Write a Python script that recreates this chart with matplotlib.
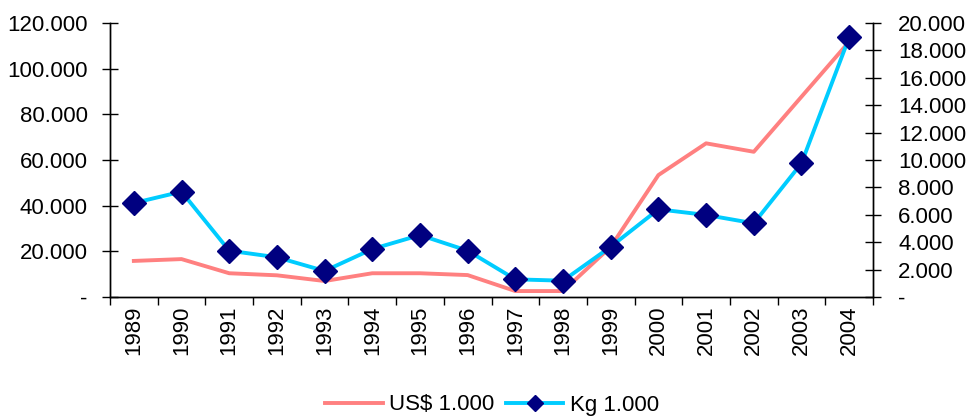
import matplotlib
matplotlib.use("Agg")
import matplotlib.pyplot as plt
from matplotlib.ticker import FuncFormatter, FixedLocator
from matplotlib.lines import Line2D
import numpy as np

plt.rcParams['font.family'] = ['Liberation Sans', 'DejaVu Sans']

years = ["1989", "1990", "1991", "1992", "1993", "1994", "1995", "1996",
         "1997", "1998", "1999", "2000", "2001", "2002", "2003", "2004"]
usd = [15800, 16600, 10400, 9500, 7000, 10400, 10400, 9600,
       2600, 2600, 22000, 53400, 67300, 63600, 87700, 111800]
kg = [6860, 7690, 3380, 2900, 1900, 3500, 4520, 3380,
      1290, 1190, 3670, 6400, 5990, 5380, 9760, 18950]

def fmt(v, pos):
    if abs(v) < 1e-9:
        return "-"
    return f"{int(round(v)):,}".replace(",", ".")

FS = 16
fig = plt.figure(figsize=(9.68, 4.18), dpi=100)
ax = fig.add_axes([110/968, 1-297/418, (873-110)/968, (297-23)/418])
ax2 = ax.twinx()

x = np.arange(len(years))
l1, = ax.plot(x, usd, color='#FF8080', lw=2.8, label='US$ 1.000', zorder=2)
l2, = ax2.plot(x, kg, color='#00CCFF', lw=2.8, marker='D', markersize=12,
               markerfacecolor='#000080', markeredgecolor='#000080',
               label='Kg 1.000', zorder=3)

ax.set_xlim(-0.5, len(years) - 0.5)
ax.set_ylim(0, 120000)
ax2.set_ylim(0, 20000)
ax.set_yticks(np.arange(0, 120001, 20000))
ax2.set_yticks(np.arange(0, 20001, 2000))
ax.yaxis.set_major_formatter(FuncFormatter(fmt))
ax2.yaxis.set_major_formatter(FuncFormatter(fmt))

ax.set_xticks(x)
ax.set_xticklabels(years, rotation=90, fontsize=FS)
ax.tick_params(axis='x', which='major', length=0, pad=6)
ax.xaxis.set_minor_locator(FixedLocator(np.arange(-0.5, len(years), 1.0)))
ax.tick_params(axis='x', which='minor', length=6, width=1, direction='out', color='black')

ax.tick_params(axis='y', direction='inout', length=12, width=1, labelsize=FS, pad=10)
ax2.tick_params(axis='y', direction='inout', length=12, width=1, labelsize=FS, pad=12)

for a in (ax, ax2):
    a.spines['top'].set_visible(False)
    for s in ('left', 'right', 'bottom'):
        a.spines[s].set_color('black')
        a.spines[s].set_linewidth(1)
ax.set_facecolor('none')
ax2.set_zorder(ax.get_zorder() + 1)
ax2.patch.set_visible(False)

h2 = Line2D([], [], color='#00CCFF', lw=2.8, marker='D', markersize=8,
            markerfacecolor='#000080', markeredgecolor='#000080')
fig.legend(handles=[l1, h2], labels=['US$ 1.000', 'Kg 1.000'], loc='center',
           bbox_to_anchor=(492/968, 13/418),
           ncol=2, frameon=False, fontsize=FS, handlelength=2.6,
           handletextpad=0.3, columnspacing=0.5)

fig.savefig('out.png', dpi=100)
